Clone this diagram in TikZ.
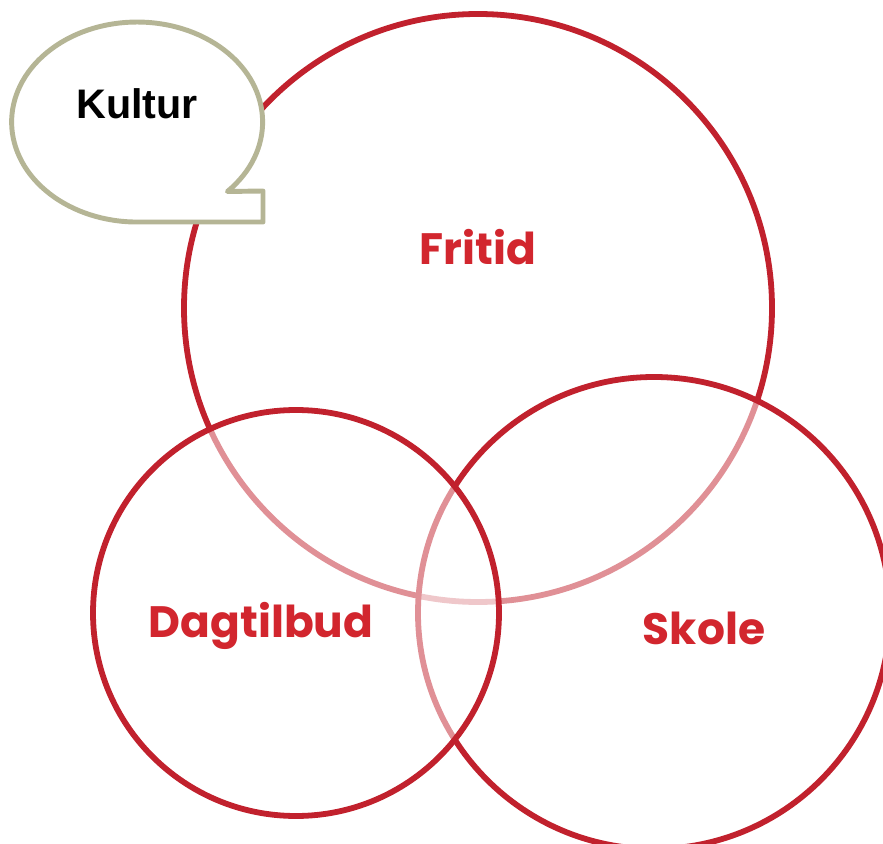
\documentclass[tikz,border=0pt]{standalone}
\usepackage{fontspec}
\setmainfont{Liberation Sans}
\newfontfamily\ringfont{Poppins}
\usepackage{tikz}

\definecolor{ringred}{RGB}{193,33,45}
\definecolor{labelred}{RGB}{210,38,46}
\definecolor{kulturgray}{RGB}{181,181,149}

\tikzset{
  ring/.style={draw=ringred, line width=3.3pt, fill=white, fill opacity=0.5},
  ringlabel/.style={text=labelred, font=\ringfont\bfseries\fontsize{25}{30}\selectfont},
  callout/.style={draw=kulturgray, line width=2.8pt, fill=white, line join=round}
}

\begin{document}
\begin{tikzpicture}[x=0.02cm,y=0.02cm]
\useasboundingbox (0,0) rectangle (883,843);

% Define centres of the three rings
\coordinate (F) at (478,535);
\coordinate (S) at (654,230);
\coordinate (D) at (296,230);

% Draw the rings, each one lightens what lies below it
\draw[ring] (F) circle[radius=294];
\draw[ring] (S) circle[radius=236];
\draw[ring] (D) circle[radius=203];

% Draw the speech bubble
\draw[callout] (137.1,621) -- (263,621) -- (263,652) -- (227.4,651.5)
  arc[start angle=-44, end angle=270, x radius=125.5, y radius=100] -- cycle;

% Add labels
\node[ringlabel] (fritid) at (478,596) {Fritid};
\node[ringlabel] (dagtilbud) at (261,217) {Dagtilbud};
\node[ringlabel] (skole) at (704,215) {Skole};
\node[font=\bfseries\fontsize{23.5}{28}\selectfont] (kultur) at (137,739) {Kultur};

\end{tikzpicture}
\end{document}
